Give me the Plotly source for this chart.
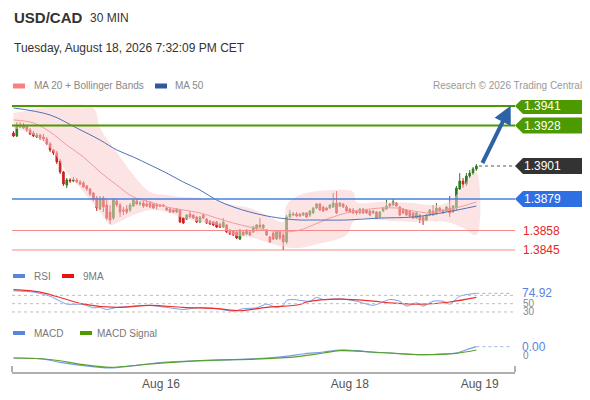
import plotly.graph_objects as go

# ---- USD/CAD 30 min candles, oldest first ----
open_ = [
    1.39230, 1.39210, 1.39283, 1.39263, 1.39277, 1.39250, 1.39230, 1.39203, 1.39217, 1.39203,
    1.39190, 1.39157, 1.39117, 1.39097, 1.39043, 1.38970, 1.38883, 1.38917, 1.38910, 1.38917,
    1.38903, 1.38897, 1.38877, 1.38857, 1.38830, 1.38797, 1.38723, 1.38797, 1.38750, 1.38703,
    1.38663, 1.38777, 1.38750, 1.38717, 1.38723, 1.38717, 1.38743, 1.38777, 1.38757, 1.38763,
    1.38757, 1.38763, 1.38757, 1.38750, 1.38750, 1.38750, 1.38730, 1.38723, 1.38717, 1.38703,
    1.38717, 1.38663, 1.38657, 1.38690, 1.38683, 1.38670, 1.38637, 1.38683, 1.38657, 1.38643,
    1.38637, 1.38637, 1.38623, 1.38603, 1.38617, 1.38583, 1.38577, 1.38570, 1.38523, 1.38570,
    1.38557, 1.38570, 1.38570, 1.38590, 1.38617, 1.38597, 1.38583, 1.38537, 1.38563, 1.38523,
    1.38570, 1.38550, 1.38503, 1.38670, 1.38683, 1.38690, 1.38690, 1.38683, 1.38697, 1.38683,
    1.38697, 1.38730, 1.38757, 1.38737, 1.38730, 1.38730, 1.38737, 1.38763, 1.38743, 1.38757,
    1.38737, 1.38723, 1.38717, 1.38710, 1.38697, 1.38723, 1.38717, 1.38710, 1.38697, 1.38703,
    1.38670, 1.38710, 1.38723, 1.38757, 1.38750, 1.38763, 1.38737, 1.38723, 1.38717, 1.38710,
    1.38697, 1.38663, 1.38683, 1.38670, 1.38650, 1.38683, 1.38710, 1.38690, 1.38730, 1.38697,
    1.38710, 1.38730, 1.38703, 1.38730, 1.38857, 1.38910, 1.38890, 1.38943, 1.38963, 1.38990,
]
high = [
    1.39243, 1.39303, 1.39303, 1.39297, 1.39283, 1.39263, 1.39243, 1.39230, 1.39223, 1.39223,
    1.39203, 1.39170, 1.39123, 1.39110, 1.39057, 1.38977, 1.38930, 1.38930, 1.38937, 1.38930,
    1.38917, 1.38910, 1.38883, 1.38863, 1.38837, 1.38810, 1.38810, 1.38810, 1.38790, 1.38750,
    1.38797, 1.38790, 1.38763, 1.38737, 1.38750, 1.38763, 1.38790, 1.38790, 1.38777, 1.38777,
    1.38783, 1.38777, 1.38763, 1.38763, 1.38757, 1.38757, 1.38737, 1.38730, 1.38723, 1.38730,
    1.38723, 1.38670, 1.38690, 1.38710, 1.38690, 1.38677, 1.38677, 1.38690, 1.38663, 1.38650,
    1.38643, 1.38643, 1.38630, 1.38663, 1.38623, 1.38590, 1.38583, 1.38577, 1.38590, 1.38577,
    1.38590, 1.38577, 1.38610, 1.38623, 1.38663, 1.38623, 1.38590, 1.38543, 1.38570, 1.38583,
    1.38577, 1.38563, 1.38683, 1.38717, 1.38703, 1.38703, 1.38697, 1.38703, 1.38703, 1.38717,
    1.38737, 1.38763, 1.38763, 1.38743, 1.38737, 1.38757, 1.38830, 1.38843, 1.38770, 1.38763,
    1.38750, 1.38730, 1.38730, 1.38717, 1.38730, 1.38730, 1.38723, 1.38717, 1.38717, 1.38710,
    1.38710, 1.38737, 1.38783, 1.38763, 1.38790, 1.38770, 1.38743, 1.38730, 1.38723, 1.38717,
    1.38703, 1.38703, 1.38690, 1.38677, 1.38690, 1.38723, 1.38750, 1.38763, 1.38737, 1.38723,
    1.38743, 1.38810, 1.38750, 1.38877, 1.38963, 1.38930, 1.38963, 1.38983, 1.39003, 1.39023,
]
low = [
    1.39203, 1.39203, 1.39263, 1.39257, 1.39237, 1.39217, 1.39203, 1.39197, 1.39183, 1.39177,
    1.39150, 1.39103, 1.39083, 1.39023, 1.38957, 1.38877, 1.38863, 1.38897, 1.38903, 1.38897,
    1.38883, 1.38863, 1.38843, 1.38810, 1.38777, 1.38710, 1.38717, 1.38703, 1.38650, 1.38623,
    1.38650, 1.38737, 1.38670, 1.38683, 1.38690, 1.38703, 1.38737, 1.38750, 1.38743, 1.38730,
    1.38737, 1.38730, 1.38723, 1.38717, 1.38737, 1.38737, 1.38710, 1.38697, 1.38697, 1.38697,
    1.38630, 1.38623, 1.38650, 1.38663, 1.38657, 1.38630, 1.38630, 1.38657, 1.38623, 1.38617,
    1.38610, 1.38597, 1.38597, 1.38597, 1.38563, 1.38550, 1.38543, 1.38523, 1.38517, 1.38543,
    1.38550, 1.38543, 1.38563, 1.38583, 1.38597, 1.38590, 1.38543, 1.38497, 1.38517, 1.38517,
    1.38517, 1.38450, 1.38490, 1.38663, 1.38677, 1.38670, 1.38670, 1.38677, 1.38663, 1.38670,
    1.38690, 1.38723, 1.38710, 1.38703, 1.38710, 1.38723, 1.38730, 1.38690, 1.38737, 1.38730,
    1.38703, 1.38697, 1.38690, 1.38683, 1.38690, 1.38690, 1.38690, 1.38677, 1.38690, 1.38657,
    1.38663, 1.38703, 1.38717, 1.38737, 1.38743, 1.38737, 1.38677, 1.38690, 1.38677, 1.38670,
    1.38657, 1.38657, 1.38630, 1.38617, 1.38643, 1.38677, 1.38677, 1.38683, 1.38703, 1.38690,
    1.38703, 1.38670, 1.38697, 1.38710, 1.38850, 1.38863, 1.38877, 1.38930, 1.38950, 1.38977,
]
close = [
    1.39210, 1.39283, 1.39270, 1.39283, 1.39250, 1.39223, 1.39210, 1.39217, 1.39197, 1.39190,
    1.39157, 1.39117, 1.39097, 1.39037, 1.38970, 1.38890, 1.38917, 1.38910, 1.38917, 1.38903,
    1.38890, 1.38870, 1.38857, 1.38823, 1.38790, 1.38730, 1.38797, 1.38737, 1.38663, 1.38650,
    1.38783, 1.38750, 1.38703, 1.38710, 1.38703, 1.38750, 1.38783, 1.38757, 1.38763, 1.38743,
    1.38743, 1.38737, 1.38730, 1.38743, 1.38743, 1.38743, 1.38717, 1.38703, 1.38703, 1.38723,
    1.38637, 1.38630, 1.38683, 1.38670, 1.38663, 1.38637, 1.38670, 1.38663, 1.38630, 1.38623,
    1.38617, 1.38603, 1.38603, 1.38637, 1.38570, 1.38557, 1.38550, 1.38530, 1.38583, 1.38550,
    1.38583, 1.38550, 1.38603, 1.38617, 1.38603, 1.38617, 1.38550, 1.38503, 1.38523, 1.38570,
    1.38530, 1.38503, 1.38670, 1.38690, 1.38690, 1.38677, 1.38677, 1.38697, 1.38670, 1.38710,
    1.38730, 1.38757, 1.38717, 1.38710, 1.38717, 1.38750, 1.38763, 1.38697, 1.38763, 1.38737,
    1.38710, 1.38703, 1.38697, 1.38697, 1.38723, 1.38697, 1.38697, 1.38683, 1.38710, 1.38663,
    1.38703, 1.38730, 1.38743, 1.38743, 1.38770, 1.38743, 1.38683, 1.38697, 1.38683, 1.38677,
    1.38663, 1.38697, 1.38650, 1.38643, 1.38683, 1.38717, 1.38683, 1.38730, 1.38710, 1.38717,
    1.38737, 1.38697, 1.38743, 1.38863, 1.38910, 1.38890, 1.38943, 1.38963, 1.38990, 1.39010,
]
bar = list(range(len(close)))

# indicators at a few bars
ma20_bar = [0, 6, 11, 16, 21, 26, 31, 36, 41, 46, 51, 56, 61, 66, 71, 76, 81, 86, 90, 95,
            100, 105, 110, 115, 120, 125, 130, 134, 139]
ma20 = [1.39317, 1.39297, 1.39237, 1.39150, 1.39070, 1.38970, 1.38883, 1.38803, 1.38770, 1.38737,
        1.38717, 1.38697, 1.38663, 1.38630, 1.38603, 1.38583, 1.38570, 1.38583, 1.38617, 1.38663,
        1.38697, 1.38717, 1.38730, 1.38730, 1.38710, 1.38697, 1.38717, 1.38737, 1.38770]
bb_up_bar = [0, 8, 15, 24, 26, 31, 36, 41, 46, 51, 56, 61, 66, 71, 76, 81, 82, 86, 96, 102,
             103, 110, 120, 125, 130, 133, 136, 139]
bb_up = [1.39363, 1.39397, 1.39417, 1.39397, 1.39263, 1.39103, 1.38950, 1.38837, 1.38817, 1.38803,
         1.38797, 1.38777, 1.38750, 1.38730, 1.38683, 1.38637, 1.38750, 1.38817, 1.38850, 1.38837,
         1.38770, 1.38770, 1.38763, 1.38750, 1.38763, 1.38817, 1.38903, 1.38970]
bb_lo_bar = [0, 6, 11, 16, 21, 26, 29, 31, 36, 41, 46, 51, 56, 61, 66, 71, 76, 81, 86, 90,
             100, 102, 105, 110, 120, 130, 135, 139]
bb_lo = [1.39263, 1.39217, 1.39130, 1.38970, 1.38837, 1.38703, 1.38617, 1.38630, 1.38683, 1.38717,
         1.38703, 1.38663, 1.38637, 1.38617, 1.38550, 1.38537, 1.38503, 1.38470, 1.38463, 1.38483,
         1.38550, 1.38637, 1.38663, 1.38650, 1.38637, 1.38637, 1.38597, 1.38550]
ma50_bar = [0, 11, 19, 26, 31, 36, 41, 46, 51, 56, 61, 66, 71, 76, 82, 86, 90, 100, 110, 120, 130, 139]
ma50 = [1.39397, 1.39350, 1.39263, 1.39183, 1.39117, 1.39070, 1.39017, 1.38963, 1.38903, 1.38850,
        1.38783, 1.38737, 1.38703, 1.38677, 1.38657, 1.38650, 1.38650, 1.38650, 1.38663, 1.38670,
        1.38703, 1.38743]

rsi_bar = [0, 6, 11, 14, 16, 21, 24, 26, 28, 31, 36, 41, 46, 51, 56, 61, 66, 69, 73, 76, 79, 81,
           82, 84, 86, 89, 91, 93, 98, 103, 108, 113, 116, 118, 121, 123, 126, 129, 131, 134, 137, 139]
rsi = [81, 78, 68, 56, 49, 48, 40, 41, 36, 41, 44, 46, 41, 36, 41, 38, 32, 38, 40, 49, 41, 46,
       58, 60, 58, 56, 65, 60, 62, 56, 46, 60, 56, 44, 52, 44, 56, 56, 49, 68, 73, 74.92]
rsi_ma_bar = [0, 8, 16, 21, 31, 41, 51, 61, 68, 76, 86, 88, 98, 108, 113, 123, 131, 139]
rsi_ma = [84, 78, 60, 49, 41, 46, 41, 38, 33, 41, 48, 54, 61, 56, 52, 49, 54, 65]
rsi_levels = [70, 50, 30]

macd_bar = [0, 8, 14, 21, 29, 36, 46, 56, 66, 76, 83, 87, 93, 98, 103, 108, 113, 118, 123, 128,
            133, 136, 139]
macd = [-0.0003, -0.00037, -0.00073, -0.00107, -0.0013, -0.00107, -0.0007, -0.00057, -0.00047,
        -0.0003, -0.00008, 0.0001, 0.0003, 0.0005, 0.00043, 0.00027, 0.0002, 0.0001, 0.00003,
        0.0001, 0.0002, 0.00053, 0.00083]
sig_bar = [0, 11, 21, 29, 41, 56, 76, 86, 93, 98, 108, 123, 133, 139]
sig = [-0.0003, -0.00045, -0.00097, -0.00123, -0.0009, -0.00057, -0.00037, -0.00013, 0.0002,
       0.00043, 0.0003, 0.00003, 0.00017, 0.0005]

resist = [1.3941, 1.3928]
pivot = 1.3879
support = [1.3858, 1.3845]
last = 1.3901

tick_bar = [44.3, 101, 140]
tick_text = ['Aug 16', 'Aug 18', 'Aug 19']

# plot area in page pixels; the page body adds an 8px offset to the figure
OFF = 8
L, R, T, B = 12, 515, 100, 372


def px(x):
    return (x - L) / (R - L)


def py(y):
    return (B - y) / (B - T)


GREEN = '#4c9a00'
BLUE = '#2f6fe4'
PINK = '#f59a9a'
FONT = 'Arial, Liberation Sans, sans-serif'

fig = go.Figure()

# bollinger band area
fig.add_trace(go.Scatter(x=bb_up_bar + bb_lo_bar[::-1], y=bb_up + bb_lo[::-1], fill='toself',
                         fillcolor='rgba(252,205,205,0.55)', line=dict(width=0, shape='spline'),
                         mode='lines', hoverinfo='skip'))
fig.add_trace(go.Scatter(x=ma20_bar, y=ma20, mode='lines',
                         line=dict(color=PINK, width=1, shape='spline')))
fig.add_trace(go.Scatter(x=ma50_bar, y=ma50, mode='lines',
                         line=dict(color='#4d72b8', width=1, shape='spline')))
fig.add_trace(go.Candlestick(x=bar, open=open_, high=high, low=low, close=close,
                             increasing=dict(line=dict(color='#2e7a1e', width=1), fillcolor='#2e7a1e'),
                             decreasing=dict(line=dict(color='#cf2020', width=1), fillcolor='#cf2020'),
                             whiskerwidth=0))

# RSI panel
fig.add_trace(go.Scatter(x=rsi_bar, y=rsi, yaxis='y2', mode='lines',
                         line=dict(color='#7a9ce8', width=1, shape='spline', smoothing=0.6)))
fig.add_trace(go.Scatter(x=rsi_ma_bar, y=rsi_ma, yaxis='y2', mode='lines',
                         line=dict(color='#e8302c', width=1.2, shape='spline')))

# MACD panel
fig.add_trace(go.Scatter(x=macd_bar, y=macd, yaxis='y3', mode='lines',
                         line=dict(color='#7a9ce8', width=1.2, shape='spline')))
fig.add_trace(go.Scatter(x=sig_bar, y=sig, yaxis='y3', mode='lines',
                         line=dict(color='#5aa02c', width=1.2, shape='spline')))

shapes = []
ann = []

# level lines
for v in resist:
    shapes.append(dict(type='line', xref='paper', yref='y', x0=0, x1=1, y0=v, y1=v,
                       line=dict(color=GREEN, width=2)))
shapes.append(dict(type='line', xref='paper', yref='y', x0=0, x1=1, y0=pivot, y1=pivot,
                   line=dict(color='#4a7fe0', width=1.3)))
for v in support:
    shapes.append(dict(type='line', xref='paper', yref='y', x0=0, x1=1, y0=v, y1=v,
                       line=dict(color='#f48a8a', width=1)))
shapes.append(dict(type='line', xref='x', yref='y', x0=bar[-1] + 0.8, x1=149.8, y0=last, y1=last,
                   line=dict(color='#555', width=1, dash='dot')))

# pointed price tags on the right
h = 8 / 15000
for v, col in [(resist[0], GREEN), (resist[1], GREEN), (last, '#333333'), (pivot, BLUE)]:
    path = (f'M {px(515)},{v} L {px(523)},{v + h} L {px(585)},{v + h} '
            f'L {px(585)},{v - h} L {px(523)},{v - h} Z')
    shapes.append(dict(type='path', xref='paper', yref='y', path=path,
                       fillcolor=col, line=dict(width=0)))
    ann.append(dict(x=px(522), y=v, xref='paper', yref='y', text=f'{v:.4f}', showarrow=False,
                    xanchor='left', yanchor='middle', font=dict(color='white', size=12)))
for v in support:
    ann.append(dict(x=px(521), y=v, xref='paper', yref='y', text=f'{v:.4f}', showarrow=False,
                    xanchor='left', yanchor='middle', font=dict(color='#e8251f', size=12)))

# forecast arrow
ann.append(dict(x=149.3, y=resist[0] + 0.00002, ax=140.6, ay=last + 0.0001, xref='x', yref='y',
                axref='x', ayref='y', text='', showarrow=True, arrowhead=2, arrowsize=0.9,
                arrowwidth=4, arrowcolor='#2d62a6'))

# RSI guides
for v in rsi_levels:
    shapes.append(dict(type='line', xref='paper', yref='y2', x0=0, x1=1, y0=v, y1=v,
                       line=dict(color='#bdbdbd', width=1, dash='dot')))
shapes.append(dict(type='line', xref='x', yref='y2', x0=bar[-1], x1=149.8, y0=rsi[-1], y1=rsi[-1],
                   line=dict(color='#9fb4e6', width=1, dash='dot')))
ann.append(dict(x=px(521), y=50, xref='paper', yref='y2', text='50', showarrow=False,
                xanchor='left', yanchor='middle', font=dict(color='#888', size=10)))
ann.append(dict(x=px(521), y=30, xref='paper', yref='y2', text='30', showarrow=False,
                xanchor='left', yanchor='middle', font=dict(color='#888', size=10)))
ann.append(dict(x=px(520), y=rsi[-1], xref='paper', yref='y2', text=f'{rsi[-1]:.2f}', showarrow=False,
                xanchor='left', yanchor='middle', font=dict(color='#5b84e0', size=12)))

# MACD guides
shapes.append(dict(type='line', xref='x', yref='y3', x0=bar[-1], x1=149.8, y0=macd[-1], y1=macd[-1],
                   line=dict(color='#9fb4e6', width=1, dash='dot')))
ann.append(dict(x=px(521), y=0, xref='paper', yref='y3', text='0', showarrow=False,
                xanchor='left', yanchor='middle', font=dict(color='#888', size=10)))
ann.append(dict(x=px(520), y=macd[-1], xref='paper', yref='y3', text=f'{macd[-1]:.2f}', showarrow=False,
                xanchor='left', yanchor='middle', font=dict(color='#5b84e0', size=12)))

# axis end caps
for xc in (0, 1):
    shapes.append(dict(type='line', xref='paper', yref='paper', x0=xc, x1=xc, y0=py(372), y1=py(366),
                       line=dict(color='#b0b0b0', width=2)))


def text(x, y, s, size=10, color='#888', bold=False):
    ann.append(dict(x=px(x), y=py(y), xref='paper', yref='paper', text=f'<b>{s}</b>' if bold else s,
                    showarrow=False, xanchor='left', yanchor='middle',
                    font=dict(size=size, color=color)))


def swatch(x, y, color, h=2.5):
    shapes.append(dict(type='rect', xref='paper', yref='paper', x0=px(x), x1=px(x + 12),
                       y0=py(y + h), y1=py(y - h), fillcolor=color, line=dict(width=0)))


text(12, 18, 'USD/CAD', size=15, color='#333', bold=True)
text(88, 18, '30 MIN', size=12, color='#333')
text(12, 48, 'Tuesday, August 18, 2026 7:32:09 PM CET', size=12, color='#333')

swatch(13, 86, '#f88080')
text(32, 86, 'MA 20 + Bollinger Bands')
swatch(155, 86, '#30589a')
text(173, 86, 'MA 50')
ann.append(dict(x=px(584), y=py(86), xref='paper', yref='paper', text='Research © 2026 Trading Central',
                showarrow=False, xanchor='right', yanchor='middle', font=dict(size=10, color='#999')))

swatch(13, 276, '#5b84e0', h=2)
text(32, 276, 'RSI', color='#777')
swatch(62, 276, '#e81414', h=2)
text(81, 276, '9MA', color='#777')
swatch(13, 333, '#5b84e0', h=2)
text(32, 333, 'MACD', color='#777')
swatch(80, 333, '#4c9a00', h=2)
text(95, 333, 'MACD Signal', color='#777')

fig.update_layout(
    width=590 - OFF, height=400 - OFF,
    margin=dict(l=L - OFF, r=590 - R, t=T - OFF, b=400 - B),
    paper_bgcolor='white', plot_bgcolor='white',
    showlegend=False,
    font=dict(family=FONT),
    shapes=shapes, annotations=ann,
    xaxis=dict(range=[-0.45, 150.6], anchor='y3', showgrid=False, zeroline=False,
               showline=True, linecolor='#b0b0b0', linewidth=2, ticks='',
               tickvals=tick_bar, ticktext=tick_text, tickfont=dict(size=12, color='#555'),
               rangeslider=dict(visible=False)),
    yaxis=dict(domain=[py(258), 1], range=[1.383967, 1.3945], visible=False),
    yaxis2=dict(domain=[py(318), py(285)], range=[15.5, 95], visible=False, anchor='x'),
    yaxis3=dict(domain=[0, py(338)], range=[-0.0017, 0.0017], visible=False, anchor='x'),
)

fig.write_html("out.html")
